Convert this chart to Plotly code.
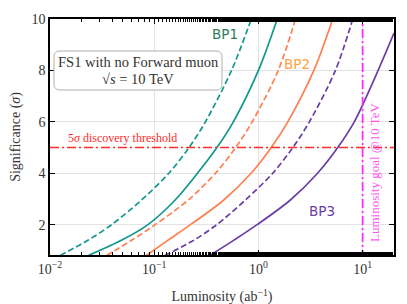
import plotly.graph_objects as go

# ---- data ----
sig_levels = [0.8, 1.4, 2, 2.95, 4, 5, 6, 8, 10]

bp1_dashed_L = [0.0125, 0.0233, 0.0390, 0.0752, 0.138, 0.216, 0.310, 0.552, 0.855]
bp1_solid_L = [0.0233, 0.0490, 0.0871, 0.158, 0.260, 0.400, 0.575, 1.0, 1.517]
bp2_dashed_L = [0.0349, 0.0611, 0.1024, 0.211, 0.387, 0.605, 0.871, 1.549, 2.27]
bp2_solid_L = [0.0839, 0.136, 0.2228, 0.462, 0.851, 1.329, 1.914, 3.404, 5.17]
bp3_dashed_L = [0.1263, 0.241, 0.398, 0.745, 1.371, 2.14, 3.083, 5.48, 8.04]
bp3_solid_L = [0.3408, 0.583, 0.972, 2.012, 3.694, 5.77, 8.318, 13.46, 20.0]
bp3_solid_S = [0.8, 1.4, 2, 2.95, 4, 5, 6, 7.82, 9.45]

threshold = 5
lumi_goal = 10
x_range = [0.01, 20]
y_range = [0.82, 10]

x_tickvals = [0.01, 0.1, 1, 10]
x_ticktext = ["10<sup>−2</sup>", "10<sup>−1</sup>", "10<sup>0</sup>", "10<sup>1</sup>"]
y_tickvals = [2, 4, 6, 8, 10]

TEAL = "#12978d"
ORANGE = "#ff7f50"
PURPLE = "#6a3ea6"
SERIF = "Liberation Serif, DejaVu Serif, serif"
SANS = "DejaVu Sans, sans-serif"
DASH = "6px,3px"
DASHDOT = "9px,3px,2px,3px"

fig = go.Figure()

curves = [
    (bp1_dashed_L, sig_levels, TEAL, DASH),
    (bp1_solid_L, sig_levels, TEAL, "solid"),
    (bp2_dashed_L, sig_levels, ORANGE, DASH),
    (bp2_solid_L, sig_levels, ORANGE, "solid"),
    (bp3_dashed_L, sig_levels, PURPLE, DASH),
    (bp3_solid_L, bp3_solid_S, PURPLE, "solid"),
]
for L, S, c, d in curves:
    fig.add_trace(go.Scatter(x=L, y=S, mode="lines",
                             line=dict(color=c, width=1.7, dash=d, shape="spline", smoothing=0.9),
                             showlegend=False, hoverinfo="skip"))

# threshold line
fig.add_trace(go.Scatter(x=x_range, y=[threshold, threshold], mode="lines",
                         line=dict(color="#ff2a2a", width=1.5, dash=DASHDOT),
                         showlegend=False, hoverinfo="skip"))
# luminosity goal line
fig.add_trace(go.Scatter(x=[lumi_goal, lumi_goal], y=[0, 10.5], mode="lines",
                         line=dict(color="#ff2bff", width=1.8, dash=DASHDOT),
                         showlegend=False, hoverinfo="skip"))

# plot-area geometry (screen px of reference): x 50..394, y 19..255
PW, PH = 344, 236
def px(x):
    return (x - 50) / PW
def py(y):
    return (255 - y) / PH

# rounded box (paper coords)
x0, x1 = px(54), px(222)
y0, y1 = py(90), py(51)
rx, ry = 6 / PW, 6 / PH
path = (f"M {x0+rx},{y0} L {x1-rx},{y0} Q {x1},{y0} {x1},{y0+ry} "
        f"L {x1},{y1-ry} Q {x1},{y1} {x1-rx},{y1} L {x0+rx},{y1} "
        f"Q {x0},{y1} {x0},{y1-ry} L {x0},{y0+ry} Q {x0},{y0} {x0+rx},{y0} Z")
fig.add_shape(type="path", path=path, xref="paper", yref="paper",
              line=dict(color="#b0b0b0", width=1), fillcolor="white", layer="above")

ann = [
    dict(x=(x0+x1)/2, y=py(62), text="FS1 with no Forward muon",
         font=dict(family=SERIF, size=14.5, color="#333")),
    dict(x=(x0+x1)/2, y=py(79), text="√<i>s</i> = 10 TeV",
         font=dict(family=SERIF, size=14.5, color="#333")),
    dict(x=px(122), y=py(138), text="5<i>σ</i> discovery threshold",
         font=dict(family=SERIF, size=12, color="#ff2a2a")),
    dict(x=px(374), y=py(172), textangle=-90, text="Luminosity goal @10 TeV",
         font=dict(family=SERIF, size=13, color="#ff55f0")),
    dict(x=px(225), y=py(34), text="BP1", font=dict(family=SANS, size=13.5, color="#2a7d5a")),
    dict(x=px(297), y=py(64), text="BP2", font=dict(family=SANS, size=13.5, color="#ffa040")),
    dict(x=px(322), y=py(211), text="BP3", font=dict(family=SANS, size=13.5, color="#6a3ea6")),
]
for a in ann:
    a.update(showarrow=False, xanchor="center", yanchor="middle", xref="paper", yref="paper")
    fig.add_annotation(**a)

# the page body adds an 8px offset, so margins are shifted to compensate
fig.update_layout(
    width=407, height=304,
    margin=dict(l=42, r=21, t=11, b=57, autoexpand=False),
    paper_bgcolor="white", plot_bgcolor="white",
    font=dict(family=SERIF, size=14, color="#333"),
    showlegend=False,
)
fig.update_xaxes(type="log", range=[-2, 1.30103], automargin=False,
                 tickvals=x_tickvals, ticktext=x_ticktext,
                 ticks="inside", ticklen=5, tickwidth=1, tickcolor="black",
                 minor=dict(ticks="inside", ticklen=3, tickcolor="black", showgrid=False),
                 showline=True, linecolor="black", linewidth=1.6, mirror="allticks",
                 showgrid=True, gridcolor="#e3e3e3", gridwidth=1,
                 tickfont=dict(family=SERIF, size=14, color="#333"),
                 title=dict(text="Luminosity (ab<sup>−1</sup>)", font=dict(family=SERIF, size=14, color="#333"), standoff=16),
                 zeroline=False)
fig.update_yaxes(range=y_range, tickvals=y_tickvals, automargin=False,
                 ticks="inside", ticklen=5, tickwidth=1, tickcolor="black",
                 showline=True, linecolor="black", linewidth=1.6, mirror="allticks",
                 showgrid=True, gridcolor="#e3e3e3", gridwidth=1,
                 tickfont=dict(family=SERIF, size=14, color="#333"),
                 title=dict(text="Significance (<i>σ</i>)", font=dict(family=SERIF, size=14, color="#333"), standoff=10),
                 zeroline=False)

fig.write_html("out.html")
